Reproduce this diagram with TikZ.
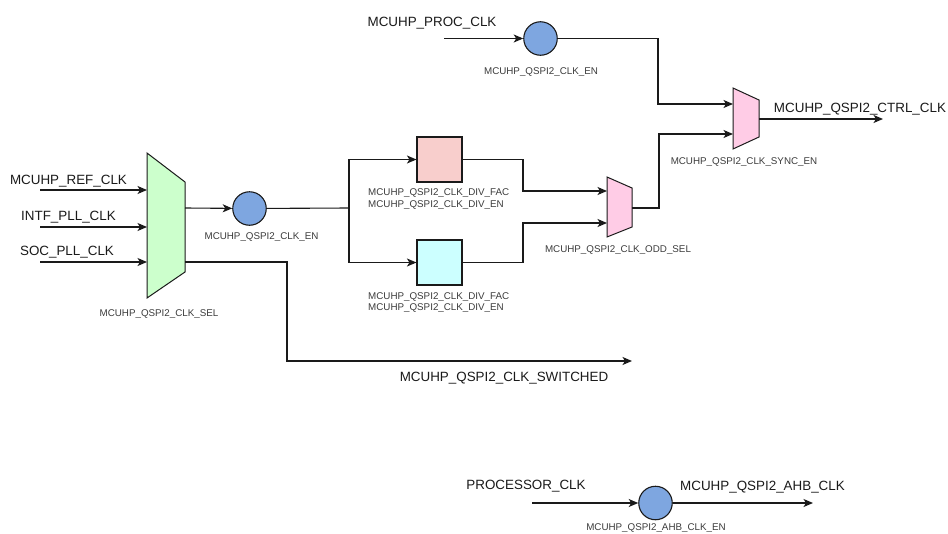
\documentclass[tikz,border=0pt]{standalone}
\usepackage{fontspec}
\setmainfont{Liberation Sans}
\usetikzlibrary{arrows.meta}

\definecolor{selfill}{HTML}{CCFFCC}
\definecolor{muxpink}{HTML}{FFCCE6}
\definecolor{divred}{HTML}{F8CECC}
\definecolor{divcyan}{HTML}{CCFFFF}
\definecolor{gatefill}{HTML}{7EA6E0}
\definecolor{ink}{HTML}{1A1A1A}

\tikzset{
  wire/.style={draw=ink, line width=1.1pt},
  sig/.style={wire, -{Stealth[length=9.5pt,width=8pt,inset=2.5pt]}},
  gate/.style={circle, draw=ink, line width=1.1pt, fill=gatefill, minimum size=33.5pt, inner sep=0pt},
  divbox/.style={rectangle, draw=ink, line width=1.1pt, minimum size=45pt, inner sep=0pt},
  muxshape/.style={draw=ink, line width=1pt, line join=miter},
  biglbl/.style={font=\fontsize{13.4}{16}\selectfont, text=ink, inner sep=0pt, anchor=base},
  smalllbl/.style={font=\fontsize{9.8}{11.8}\selectfont, text=ink!85, inner sep=0pt, anchor=base},
}

\begin{document}
\begin{tikzpicture}[x=1pt, y=-1pt]
\useasboundingbox[fill=white] (0,0) rectangle (948,533);

% ---- clock source select mux ----
\draw[muxshape, fill=selfill] (147,153) -- (185,182) -- (185,272) -- (147,298) -- cycle;
\coordinate (selIn1) at (147,190);
\coordinate (selIn2) at (147,227);
\coordinate (selIn3) at (147,262);
\coordinate (selOut1) at (185,208);
\coordinate (selOut2) at (185,262);
\node[smalllbl] (selLbl) at (159,316) {MCUHP\_QSPI2\_CLK\_SEL};

\coordinate (refIn) at (40,190);
\coordinate (intfIn) at (40,227);
\coordinate (socIn) at (40,262);
\node[biglbl] (refLbl) at (68.5,184) {MCUHP\_REF\_CLK};
\node[biglbl] (intfLbl) at (68.5,220) {INTF\_PLL\_CLK};
\node[biglbl] (socLbl) at (67,255.5) {SOC\_PLL\_CLK};

\draw[sig] (refIn) -- (selIn1);
\draw[sig] (intfIn) -- (selIn2);
\draw[sig] (socIn) -- (selIn3);

% ---- clock enable after select ----
\node[gate] (enA) at (249.5,208.5) {};
\node[smalllbl] (enALbl) at (261.5,239) {MCUHP\_QSPI2\_CLK\_EN};
\draw[sig] (selOut1) -- (enA);

% ---- dividers ----
\coordinate (split) at (349,208);
\node[divbox, fill=divred] (divA) at (439.5,159.5) {};
\node[divbox, fill=divcyan] (divB) at (439.5,262.5) {};
\node[smalllbl, anchor=base west] (divALbl1) at (368,195) {MCUHP\_QSPI2\_CLK\_DIV\_FAC};
\node[smalllbl, anchor=base west] (divALbl2) at (368,207) {MCUHP\_QSPI2\_CLK\_DIV\_EN};
\node[smalllbl, anchor=base west] (divBLbl1) at (368,299) {MCUHP\_QSPI2\_CLK\_DIV\_FAC};
\node[smalllbl, anchor=base west] (divBLbl2) at (368,310) {MCUHP\_QSPI2\_CLK\_DIV\_EN};

\draw[wire] (enA) -- (split);
\draw[sig] (split) |- (divA);
\draw[sig] (split) |- (divB);

% ---- odd/even select mux ----
\draw[muxshape, fill=muxpink] (607,177) -- (632,188) -- (632,227) -- (607,237) -- cycle;
\coordinate (oddIn1) at (607,191);
\coordinate (oddIn2) at (607,223);
\coordinate (oddOut) at (632,208);
\node[smalllbl] (oddLbl) at (618,252) {MCUHP\_QSPI2\_CLK\_ODD\_SEL};

\coordinate (jogA) at (523,191);
\coordinate (jogB) at (523,223);
\draw[sig] (divA.east) -| (jogA) -- (oddIn1);
\draw[sig] (divB.east) -| (jogB) -- (oddIn2);

% ---- processor clock enable ----
\coordinate (procIn) at (444,38.5);
\node[gate] (enTop) at (540.5,38.5) {};
\node[biglbl] (procLbl) at (432,26) {MCUHP\_PROC\_CLK};
\node[smalllbl] (enTopLbl) at (541,74) {MCUHP\_QSPI2\_CLK\_EN};
\draw[sig] (procIn) -- (enTop);

% ---- sync mux ----
\draw[muxshape, fill=muxpink] (733,88) -- (759,100) -- (759,137) -- (733,149) -- cycle;
\coordinate (syncIn1) at (733,104);
\coordinate (syncIn2) at (733,134);
\coordinate (syncOut) at (759,119);
\node[smalllbl] (syncLbl) at (744,164) {MCUHP\_QSPI2\_CLK\_SYNC\_EN};

\coordinate (jogC) at (659,134);
\coordinate (jogD) at (658,104);
\draw[sig] (oddOut) -| (jogC) -- (syncIn2);
\draw[sig] (enTop.east) -| (jogD) -- (syncIn1);

\coordinate (ctrlOut) at (883,119);
\node[biglbl] (ctrlLbl) at (860,112) {MCUHP\_QSPI2\_CTRL\_CLK};
\draw[sig] (syncOut) -- (ctrlOut);

% ---- switched clock output ----
\coordinate (jogE) at (287,361);
\coordinate (swOut) at (632,361);
\node[biglbl] (swLbl) at (504,381) {MCUHP\_QSPI2\_CLK\_SWITCHED};
\draw[sig] (selOut2) -| (jogE) -- (swOut);

% ---- AHB clock enable ----
\coordinate (cpuIn) at (532,503);
\node[gate] (enAhb) at (655.5,503) {};
\coordinate (ahbOut) at (813,503);
\node[biglbl] (cpuLbl) at (526,489) {PROCESSOR\_CLK};
\node[biglbl] (ahbLbl) at (762.5,490) {MCUHP\_QSPI2\_AHB\_CLK};
\node[smalllbl] (enAhbLbl) at (656,530.5) {MCUHP\_QSPI2\_AHB\_CLK\_EN};
\draw[sig] (cpuIn) -- (enAhb);
\draw[sig] (enAhb) -- (ahbOut);
\end{tikzpicture}
\end{document}
